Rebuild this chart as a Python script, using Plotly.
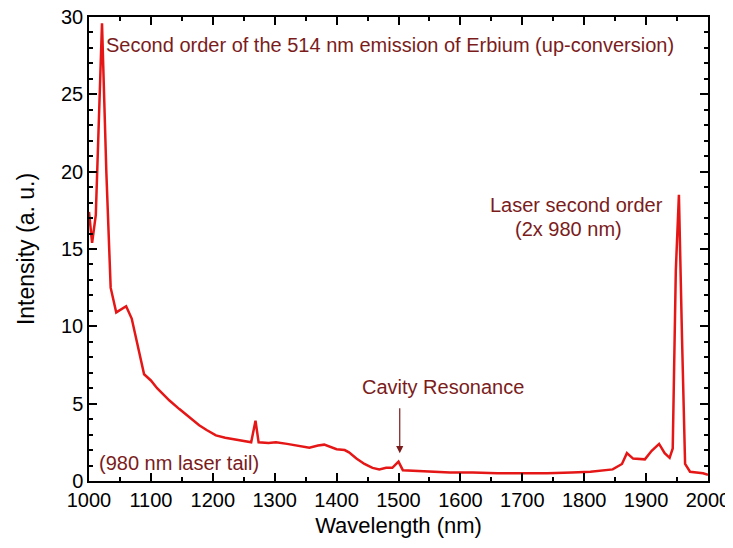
import plotly.graph_objects as go

wavelength = [1000, 1005, 1011, 1016, 1021, 1028, 1035, 1044, 1052, 1060, 1069, 1080, 1089,
              1100, 1110, 1120, 1130, 1146, 1162, 1178, 1190, 1205, 1220, 1235, 1250, 1262,
              1269, 1274, 1290, 1302, 1320, 1335, 1356, 1370, 1380, 1400, 1413, 1420, 1432,
              1445, 1458, 1469, 1480, 1490, 1500, 1507, 1530, 1555, 1583, 1620, 1660, 1700,
              1740, 1780, 1810, 1846, 1861, 1869, 1879, 1898, 1909, 1921, 1930, 1938, 1943,
              1948, 1953, 1958, 1963, 1971, 1992, 2000]
intensity = [17.4, 15.4, 17.2, 23.0, 29.6, 20.0, 12.5, 10.9, 11.1, 11.3, 10.5, 8.5, 6.9,
             6.5, 6.0, 5.6, 5.2, 4.65, 4.1, 3.6, 3.3, 2.95, 2.8, 2.7, 2.6, 2.5,
             3.9, 2.5, 2.45, 2.5, 2.4, 2.3, 2.15, 2.3, 2.35, 2.05, 2.0, 1.85, 1.45,
             1.1, 0.85, 0.75, 0.85, 0.85, 1.25, 0.7, 0.65, 0.6, 0.55, 0.55, 0.5, 0.5,
             0.5, 0.55, 0.6, 0.75, 1.1, 1.8, 1.45, 1.4, 1.95, 2.4, 1.8, 1.5, 2.1,
             13.6, 18.5, 9.3, 1.1, 0.6, 0.5, 0.4]

x_ticks = [1000, 1100, 1200, 1300, 1400, 1500, 1600, 1700, 1800, 1900, 2000]
y_ticks = [0, 5, 10, 15, 20, 25, 30]

ANN = "#7b1c1c"
FONT = "Liberation Sans, Arial, sans-serif"

fig = go.Figure()
fig.add_trace(go.Scatter(x=wavelength, y=intensity, mode="lines",
                         line=dict(color="#e51616", width=2.5), showlegend=False))

axis_common = dict(showline=True, linecolor="black", linewidth=1.5, mirror="ticks",
                   ticks="inside", ticklen=8, tickwidth=1.5, tickcolor="black",
                   showgrid=False, zeroline=False, automargin=False,
                   ticklabeloverflow="allow",
                   tickfont=dict(family=FONT, size=20, color="black"))

fig.update_xaxes(range=[1000, 2000], tickvals=x_ticks,
                 minor=dict(dtick=50, ticklen=4, tickwidth=1.5, ticks="inside", tickcolor="black"),
                 title=dict(text="Wavelength (nm)", font=dict(family=FONT, size=22, color="black"),
                            standoff=8),
                 **axis_common)
fig.update_yaxes(range=[0, 30], tickvals=y_ticks,
                 minor=dict(dtick=1, ticklen=4, tickwidth=1.5, ticks="inside", tickcolor="black"),
                 title=dict(text="Intensity (a. u.)", font=dict(family=FONT, size=23, color="black"),
                            standoff=20),
                 **axis_common)

annots = [
    dict(x=1024, y=28.2, text="Second order of the 514 nm emission of Erbium (up-conversion)",
         xanchor="left"),
    dict(x=1787, y=17.85, text="Laser second order", xanchor="center"),
    dict(x=1775, y=16.3, text="(2x 980 nm)", xanchor="center"),
    dict(x=1013, y=1.15, text="(980 nm laser tail)", xanchor="left"),
    dict(x=1572, y=6.1, text="Cavity Resonance", xanchor="center"),
]
for a in annots:
    fig.add_annotation(x=a["x"], y=a["y"], text=a["text"], xanchor=a["xanchor"],
                       yanchor="middle", showarrow=False,
                       font=dict(family=FONT, size=20, color=ANN))

fig.add_annotation(x=1502, y=1.8, ax=1502, ay=4.8, axref="x", ayref="y", text="",
                   showarrow=True, arrowhead=2, arrowsize=1.2, arrowwidth=1.2,
                   arrowcolor=ANN)

# page body adds an 8px offset, so the figure is 8px smaller to keep the frame in place
fig.update_layout(width=725, height=540, margin=dict(l=81, r=25, t=9, b=67),
                  plot_bgcolor="white", paper_bgcolor="white")

fig.write_html("out.html")
